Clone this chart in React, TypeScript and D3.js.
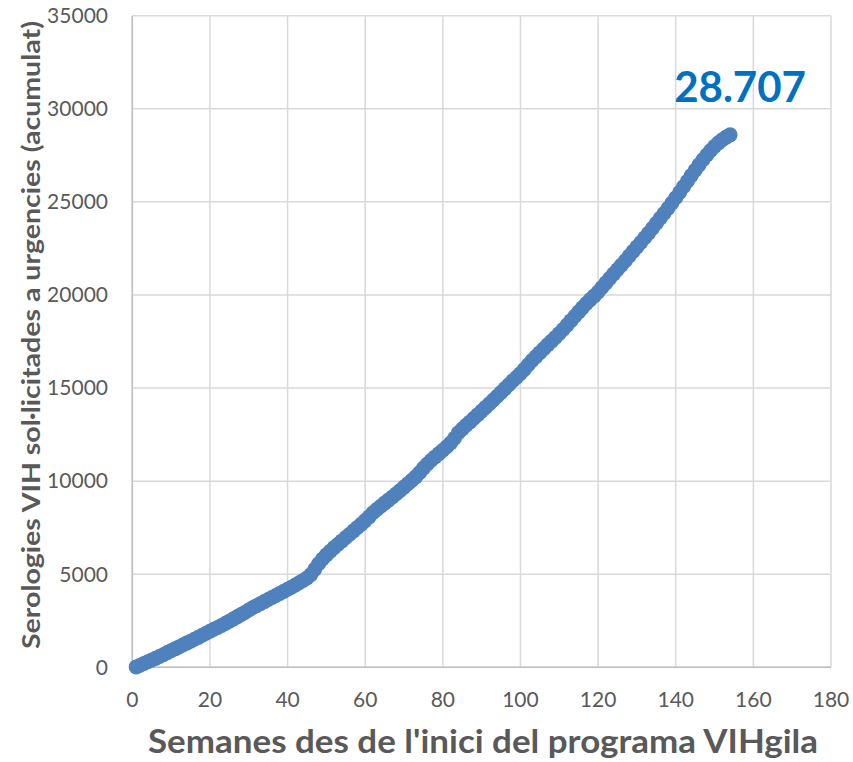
import React from 'react';
import * as d3 from 'd3';

// weekly cumulative HIV serologies requested from the ER
const weeks = d3.range(1, 155);
const cumulative = [
  20, 110, 210, 300, 390, 480, 580, 680, 790, 890,
  990, 1090, 1200, 1300, 1400, 1510, 1610, 1720, 1830, 1940,
  2040, 2140, 2250, 2360, 2480, 2590, 2710, 2830, 2950, 3080,
  3200, 3310, 3420, 3530, 3640, 3750, 3860, 3970, 4080, 4190,
  4300, 4420, 4540, 4660, 4800, 4980, 5260, 5560, 5820, 6040,
  6240, 6430, 6610, 6790, 6970, 7150, 7330, 7510, 7690, 7880,
  8080, 8300, 8480, 8650, 8820, 8980, 9150, 9320, 9500, 9680,
  9860, 10040, 10230, 10450, 10700, 10920, 11120, 11300, 11480, 11660,
  11850, 12050, 12300, 12600, 12800, 13000, 13180, 13380, 13570, 13770,
  13960, 14160, 14360, 14560, 14760, 14970, 15180, 15390, 15580, 15780,
  16000, 16250, 16480, 16690, 16900, 17110, 17320, 17520, 17720, 17930,
  18150, 18380, 18620, 18860, 19090, 19320, 19540, 19750, 19950, 20160,
  20400, 20650, 20890, 21130, 21370, 21600, 21840, 22090, 22340, 22580,
  22820, 23070, 23320, 23580, 23850, 24120, 24390, 24660, 24940, 25220,
  25510, 25810, 26110, 26410, 26700, 26990, 27260, 27520, 27760, 27980,
  28170, 28340, 28480, 28600,
];
const xTicks = [0, 20, 40, 60, 80, 100, 120, 140, 160, 180];
const yTicks = [0, 5000, 10000, 15000, 20000, 25000, 30000, 35000];
const totalLabel = '28.707';

const W = 853;
const H = 762;
const FONT = 'Lato, "Liberation Sans", sans-serif';

const App = () => {
  const x = d3.scaleLinear().domain([0, 180]).range([132.3, 831]);
  const y = d3.scaleLinear().domain([0, 35000]).range([667.3, 15.7]);
  const points = weeks.map((w, i) => [w, cumulative[i]]);
  const last = points[points.length - 1];

  return (
    <svg width={W} height={H} style={{ position: 'absolute', left: 0, top: 0, background: '#fff' }}>
      {/* grid */}
      {xTicks.map(t => (
        <line key={'gx' + t} x1={x(t)} x2={x(t)} y1={y(35000)} y2={y(0)} stroke="#d9d9d9" strokeWidth={1.5} />
      ))}
      {yTicks.map(t => (
        <line key={'gy' + t} x1={x(0)} x2={x(180)} y1={y(t)} y2={y(t)} stroke="#d9d9d9" strokeWidth={1.5} />
      ))}
      {/* axes */}
      <line x1={x(0)} x2={x(0)} y1={y(35000)} y2={y(0)} stroke="#bfbfbf" strokeWidth={1.5} />
      <line x1={x(0)} x2={x(180)} y1={y(0)} y2={y(0)} stroke="#bfbfbf" strokeWidth={1.5} />

      {/* tick labels */}
      {yTicks.map(t => (
        <text key={'ty' + t} x={108} y={y(t)} dy="0.35em" textAnchor="end" fontFamily={FONT} fontSize={21} fill="#595959">
          {t}
        </text>
      ))}
      {xTicks.map(t => (
        <text key={'tx' + t} x={x(t)} y={700} dy="0.35em" textAnchor="middle" fontFamily={FONT} fontSize={21} fill="#595959">
          {t}
        </text>
      ))}

      {/* series */}
      <g fill="#4f81bd">
        {points.map(([w, v]) => (
          <circle key={w} cx={x(w)} cy={y(v)} r={7.5} />
        ))}
      </g>

      {/* total label */}
      <text x={x(last[0]) + 10} y={102} textAnchor="middle" fontFamily={FONT} fontWeight="bold" fontSize={42} fill="#0070c0">
        {totalLabel}
      </text>

      {/* axis titles */}
      <text
        transform={`translate(31,335) rotate(-90)`}
        textAnchor="middle"
        dy="0.35em"
        fontFamily={FONT}
        fontWeight="bold"
        fontSize={25}
        textLength={628}
        lengthAdjust="spacingAndGlyphs"
        fill="#595959"
      >
        Serologies VIH sol·licitades a urgencies (acumulat)
      </text>
      <text
        x={483}
        y={753}
        textAnchor="middle"
        fontFamily={FONT}
        fontWeight="bold"
        fontSize={33}
        textLength={670}
        lengthAdjust="spacingAndGlyphs"
        fill="#595959"
      >
        Semanes des de l'inici del programa VIHgila
      </text>
    </svg>
  );
};

export default App;
